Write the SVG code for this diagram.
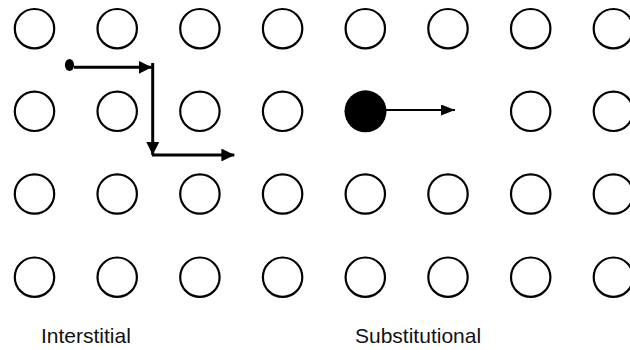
<svg xmlns="http://www.w3.org/2000/svg" width="630" height="350" viewBox="0 0 630 350">
<style>
.atom{fill:#fff;stroke:#000;stroke-width:2.2}
.conn{stroke:#000;fill:none}
.lbl{font-family:"Liberation Sans",Arial,sans-serif;font-size:21px;fill:#111}
</style>
<defs>
<marker id="ah" viewBox="0 0 10 10" refX="10" refY="5" markerWidth="4.3" markerHeight="4.3" markerUnits="strokeWidth" orient="auto"><path d="M0,0 L10,5 L0,10 z" fill="#000"/></marker>
<marker id="ah2" viewBox="0 0 10 10" refX="10" refY="5" markerWidth="7" markerHeight="5.5" markerUnits="strokeWidth" orient="auto" preserveAspectRatio="none"><path d="M0,0 L10,5 L0,10 z" fill="#000"/></marker>
<circle id="a" class="atom" r="19.7"/>
</defs>
<g id="lattice">
<g id="row1">
<use href="#a" x="34.5" y="28.7"/><use href="#a" x="117.2" y="28.7"/><use href="#a" x="199.9" y="28.7"/><use href="#a" x="282.6" y="28.7"/><use href="#a" x="365.3" y="28.7"/><use href="#a" x="448" y="28.7"/><use href="#a" x="530.7" y="28.7"/><use href="#a" x="613.4" y="28.7"/>
</g>
<g id="row2">
<use href="#a" x="34.5" y="111.3"/><use href="#a" x="117.2" y="111.3"/><use href="#a" x="199.9" y="111.3"/><use href="#a" x="282.6" y="111.3"/><use href="#a" x="530.7" y="111.3"/><use href="#a" x="613.4" y="111.3"/>
</g>
<g id="row3">
<use href="#a" x="34.5" y="194"/><use href="#a" x="117.2" y="194"/><use href="#a" x="199.9" y="194"/><use href="#a" x="282.6" y="194"/><use href="#a" x="365.3" y="194"/><use href="#a" x="448" y="194"/><use href="#a" x="530.7" y="194"/><use href="#a" x="613.4" y="194"/>
</g>
<g id="row4">
<use href="#a" x="34.5" y="277.2"/><use href="#a" x="117.2" y="277.2"/><use href="#a" x="199.9" y="277.2"/><use href="#a" x="282.6" y="277.2"/><use href="#a" x="365.3" y="277.2"/><use href="#a" x="448" y="277.2"/><use href="#a" x="530.7" y="277.2"/><use href="#a" x="613.4" y="277.2"/>
</g>
</g>
<g id="interstitial-atom"><ellipse cx="69.5" cy="65" rx="4.6" ry="6" fill="#000"/></g>
<g id="substitutional-atom"><circle cx="365.5" cy="111.3" r="21" fill="#000"/></g>
<g id="connectors">
<line class="conn" x1="74" y1="67.3" x2="151.7" y2="67.3" stroke-width="3" marker-end="url(#ah)"/>
<line class="conn" x1="152.7" y1="63" x2="152.7" y2="155" stroke-width="3" marker-end="url(#ah)"/>
<line class="conn" x1="152" y1="155" x2="234.3" y2="155" stroke-width="3" marker-end="url(#ah)"/>
<line class="conn" x1="386" y1="110" x2="455" y2="110" stroke-width="2" marker-end="url(#ah2)"/>
</g>
<g id="labels">
<text class="lbl" x="41" y="343">Interstitial</text>
<text class="lbl" x="355" y="343">Substitutional</text>
</g>
</svg>
